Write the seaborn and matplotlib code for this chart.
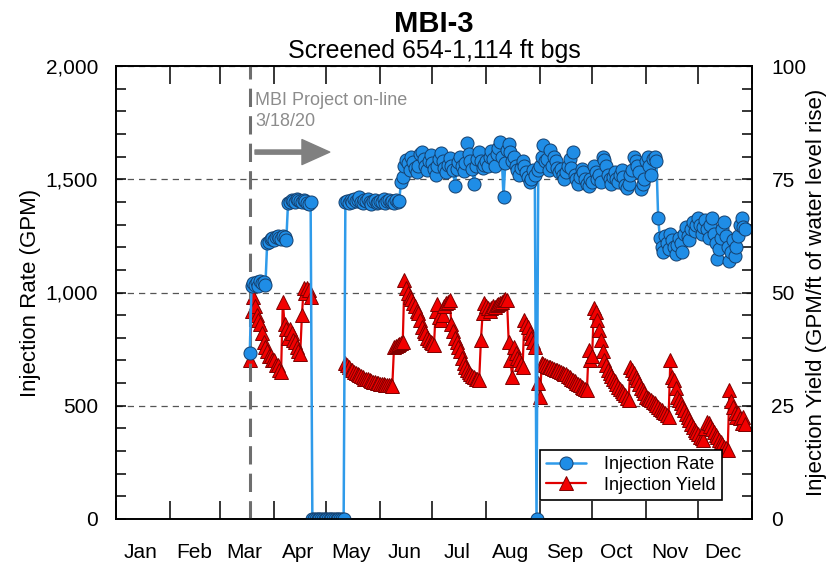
import matplotlib
matplotlib.use('Agg')
import matplotlib.pyplot as plt
import matplotlib.dates as mdates
from matplotlib.ticker import MultipleLocator, FuncFormatter
import numpy as np
import pandas as pd
import seaborn as sns

# daily readings 3/18/20 - 12/28/20
rate_mar = [735, 1030, 1040, 1035, 1045, 1030, 1050, 1040, 1045, 1035, 1220, 1225, 1235, 1240]
rate_apr = [1230, 1245, 1250, 1240, 1235, 1250, 1245, 1230,
            1395, 1400, 1410, 1405, 1400, 1415, 1410, 1405, 1400, 1410, 1405, 1395, 1390, 1400,
            0, 0, 0, 0, 0, 0, 0, 0]
rate_may = [0, 0, 0, 0, 0, 0, 0, 0, 0, 0, 0,
            1400, 1405, 1395, 1410, 1400, 1415, 1405, 1410, 1420, 1400,
            1395, 1410, 1405, 1415, 1400, 1390, 1405, 1410, 1395, 1400]
rate_jun = [1405, 1400, 1415, 1395, 1405, 1410, 1400, 1405, 1395, 1410, 1400, 1405,
            1490, 1510, 1560, 1585, 1570, 1540, 1600, 1575, 1550, 1530, 1560, 1610,
            1620, 1590, 1560, 1540, 1580, 1605]
rate_jul = [1570, 1545, 1520, 1560, 1590, 1615, 1580, 1550, 1530, 1565,
            1595, 1560, 1540, 1470, 1545, 1575, 1600, 1560, 1535, 1570,
            1660, 1610, 1580, 1545, 1480, 1560, 1590, 1620, 1580, 1550, 1565]
rate_aug = [1580, 1560, 1600, 1625, 1590, 1560, 1610, 1640, 1665, 1600,
            1420, 1570, 1630, 1655, 1620, 1580, 1600, 1560, 1540, 1520,
            1550, 1580, 1560, 1530, 1510, 1490, 1500, 1540, 1520, 0, 1540]
rate_sep = [1560, 1600, 1650, 1580, 1590, 1540, 1630, 1560, 1600, 1580,
            1550, 1530, 1545, 1520, 1500, 1530, 1560, 1590, 1550, 1620,
            1520, 1500, 1480, 1510, 1545, 1530, 1500, 1480, 1470, 1500]
rate_oct = [1490, 1560, 1530, 1500, 1520, 1490, 1600, 1585, 1560, 1520,
            1500, 1480, 1510, 1530, 1500, 1490, 1520, 1540, 1510, 1475,
            1460, 1480, 1520, 1540, 1600, 1580, 1560, 1530, 1455, 1480, 1500]
rate_nov = [1580, 1600, 1560, 1520, 1590, 1600, 1580, 1330,
            1240, 1200, 1180, 1250, 1220, 1190, 1260, 1230, 1200, 1170, 1210,
            1240, 1220, 1180, 1260, 1290, 1250, 1230, 1280, 1310, 1270, 1300]
rate_dec = [1330, 1300, 1260, 1290, 1320, 1280, 1240, 1300, 1330, 1260,
            1220, 1150, 1190, 1240, 1280, 1310, 1250, 1200, 1140, 1180,
            1230, 1160, 1200, 1250, 1300, 1330, 1290, 1280]

yield_mar = [35, 46, 49, 47, 45, 44, 43, 41, 39, 38, 37, 36, 36, 35]
yield_apr = [35, 34, 34, 33, 32.5, 48, 43, 42, 40, 42, 41, 39.5, 39, 38, 37,
             36.5, 45, 51, 50, 51, 50.5, 49,
             None, None, None, None, None, None, None, None]
yield_may = [None] * 11 + [34.5, 34, 33.5, 33, 32.8, 32.5, 32.2, 32, 31.8, 31.5,
                           31.3, 31, 31, 30.8, 30.6, 30.5, 30.3, 30.2, 30, 30]
yield_jun = [29.9, 29.8, 29.7, 29.6, 29.6, 29.5, 29.5, 29.4,
             38, 38.3, 38.5, 38.6, 38.8, 39,
             52.8, 51, 50, 49, 48.5, 47.7, 47, 46, 45.5, 44, 42.4, 41.5, 41, 40, 39.5, 39]
yield_jul = [38.9, 38.5, 46, 47.5, 44.6, 44, 45, 47, 47.7, 48,
             48.3, 43, 41.5, 40, 39, 38, 37, 35.5, 34.4, 33.5,
             33, 32.5, 32, 31.5, 31.4, 31, 30.8, 30.7, 39.5, 45.5, 47.7]
yield_aug = [47, 46.5, 46, 46.5, 47, 46.8, 47.2, 47.5, 47.7, 48,
             48.3, 48.5, 48.3, 39, 35, 31.4, 38, 36.6, 35.5, 35,
             34.3, 33.6, 44, 43, 42.4, 41, 40, 39, 38, None, 30]
yield_sep = [27, 34.4, 34.2, 34, 33.8, 33.6, 33.5, 33.3, 33.1, 33,
             32.8, 32.6, 32.5, 32.3, 32.1, 32, 31.6, 31.3, 31, 30.7,
             30.4, 30.1, 29.8, 29.5, 29.2, 28.9, 28.6, 28.5, 37.3, 35]
yield_oct = [36, 46.6, 45.7, 44, 41.7, 39.5, 37, 35, 34, 33,
             32.3, 31.6, 31, 30.4, 29.8, 29.2, 28.8, 28.3, 27.8, 27.3,
             26.8, 26.3, 33.5, 33, 32.2, 31.4, 30.6, 29.8, 29, 28.4, 27.8]
yield_nov = [27, 26.8, 26.5, 26.3, 25.9, 25.5, 25.1, 24.7, 24.3, 24,
             23.6, 23.3, 22.9, 22.5, 35, 31.4, 30.7, 29, 27, 26.2,
             25.5, 24.7, 24, 23.2, 22.5, 21.8, 21, 20.3, 19.7, 19.2]
yield_dec = [18.7, 18.2, 17.8, 17.4, 20, 21.5, 21.2, 20.5, 19.8, 19.2,
             18.6, 18, 17.5, 17, 16.5, 16, 15.6, 15.2, 28.5, 26,
             24.7, 23.5, 22.5, 23.4, 22.3, 21.2, 22.5, 21]

rate = (rate_mar + rate_apr + rate_may + rate_jun + rate_jul + rate_aug
        + rate_sep + rate_oct + rate_nov + rate_dec)
yld = (yield_mar + yield_apr + yield_may + yield_jun + yield_jul + yield_aug
       + yield_sep + yield_oct + yield_nov + yield_dec)
dates = pd.date_range('2020-03-18', '2020-12-28', freq='D')

df = pd.DataFrame({'date': dates, 'rate': rate, 'yield': yld})
df['yield'] = df['yield'].astype(float)
# keep gaps in the yield line where there is no reading
df['seg'] = df['yield'].isna().cumsum()

sns.set_theme(style='ticks', rc={'text.color': 'black', 'axes.labelcolor': 'black',
                                 'xtick.color': 'black', 'ytick.color': 'black'})
plt.rcParams['font.family'] = ['Liberation Sans', 'DejaVu Sans']

blue_line, blue_face, blue_edge = '#2f9bea', '#1f8de6', '#15406e'
red_line, red_face, red_edge = '#e00000', '#f20000', '#7d0000'

fig = plt.figure(figsize=(8.32, 5.63), dpi=100)
ax = fig.add_axes([116 / 832, 44 / 563, 636 / 832, 453 / 563])
ax2 = ax.twinx()

sns.lineplot(data=df, x='date', y='rate', ax=ax, color=blue_line, lw=1.8,
             marker='o', ms=9.4, mfc=blue_face, mec=blue_edge, mew=0.7,
             label='Injection Rate')
sns.lineplot(data=df, x='date', y='yield', units='seg', estimator=None, ax=ax2,
             color=red_line, lw=1.6, marker='^', ms=9.5, mfc=red_face,
             mec=red_edge, mew=0.7, label='Injection Yield')

# rate series drawn above the yield series
ax.set_zorder(ax2.get_zorder() + 1)
ax.patch.set_visible(False)

start = mdates.date2num(pd.Timestamp('2020-01-01'))
end = mdates.date2num(pd.Timestamp('2021-01-01'))
ax.set_xlim(start, end)
ax.set_ylim(0, 2000)
ax2.set_ylim(0, 100)

ax.xaxis.set_major_locator(mdates.MonthLocator())
ax.xaxis.set_minor_locator(mdates.MonthLocator(bymonthday=15))
ax.xaxis.set_major_formatter(plt.NullFormatter())
ax.xaxis.set_minor_formatter(mdates.DateFormatter('%b'))
ax.tick_params(axis='x', which='major', direction='in', length=13, width=1.1,
               top=True, bottom=True)
ax.tick_params(axis='x', which='minor', length=0, labelsize=15, pad=17)

ax.yaxis.set_major_locator(MultipleLocator(500))
ax.yaxis.set_minor_locator(MultipleLocator(100))
ax.yaxis.set_major_formatter(FuncFormatter(lambda v, p: f'{v:,.0f}'))
ax.tick_params(axis='y', which='both', direction='in', length=7.5, width=1.1,
               labelsize=15, pad=13)
ax2.yaxis.set_major_locator(MultipleLocator(25))
ax2.yaxis.set_minor_locator(MultipleLocator(5))
ax2.tick_params(axis='y', which='both', direction='in', length=7.5, width=1.1,
                labelsize=15, pad=14)

ax2.yaxis.grid(True, which='major', linestyle=(0, (5, 4)), color='#555555', lw=0.9)
ax2.set_axisbelow(True)

for a in (ax, ax2):
    for s in a.spines.values():
        s.set_linewidth(1.2)
        s.set_color('black')

ax.set_xlabel('')
ax.set_ylabel('Injection Rate (GPM)', fontsize=16)
ax2.set_ylabel('Injection Yield (GPM/ft of water level rise)', fontsize=16)
ax.yaxis.set_label_coords(-0.118, 0.5)
ax2.yaxis.set_label_coords(1.085, 0.5)

# project start marker
online = mdates.date2num(pd.Timestamp('2020-03-18'))
ax.axvline(online, color='#6e6e6e', lw=2.2, dashes=(6, 3), zorder=1)
ax.text(mdates.date2num(pd.Timestamp('2020-03-21')), 1885,
        'MBI Project on-line\n3/18/20', color='#8c8c8c', fontsize=13,
        ha='left', va='top', linespacing=1.3)
ax.annotate('', xy=(mdates.date2num(pd.Timestamp('2020-05-03')), 1620),
            xytext=(mdates.date2num(pd.Timestamp('2020-03-21')), 1620),
            arrowprops=dict(facecolor='#808080', edgecolor='#808080',
                            width=3, headwidth=18, headlength=20, shrink=0))

h1, l1 = ax.get_legend_handles_labels()
h2, l2 = ax2.get_legend_handles_labels()
if ax2.get_legend() is not None:
    ax2.get_legend().remove()
leg = ax.legend([h1[0], h2[0]], ['Injection Rate', 'Injection Yield'],
                loc='lower right', bbox_to_anchor=(0.953, 0.042),
                borderaxespad=0, fontsize=13, frameon=True, fancybox=False,
                framealpha=1, edgecolor='black', handlelength=2.2,
                numpoints=1, borderpad=0.35, labelspacing=0.2, handletextpad=1.0)
leg.get_frame().set_linewidth(1.2)

fig.text(434 / 832, 1 - 32 / 563, 'MBI-3', ha='center', va='baseline',
         fontsize=21, fontweight='bold')
fig.text(434 / 832, 1 - 58 / 563, 'Screened 654-1,114 ft bgs', ha='center',
         va='baseline', fontsize=18)

fig.savefig('out.png', dpi=100, facecolor='white')
